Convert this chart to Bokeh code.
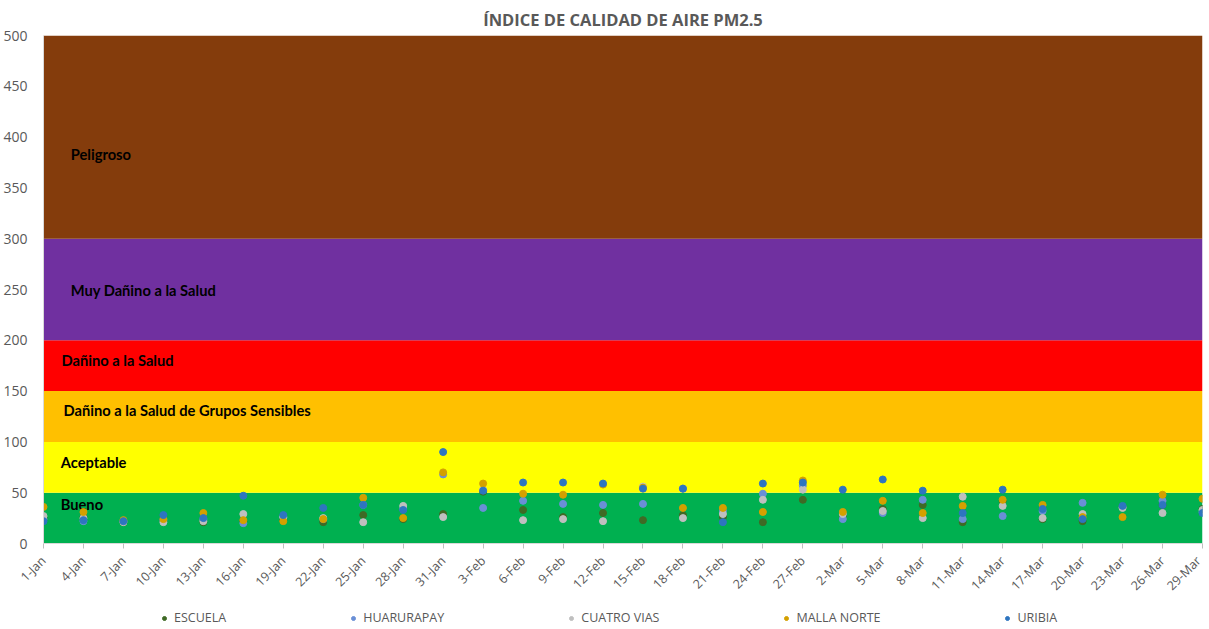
import math
from bokeh.plotting import figure
from bokeh.layouts import column
from bokeh.models import ColumnDataSource, Range1d, FixedTicker, Legend, LegendItem
from bokeh.core.properties import value
from bokeh.embed import file_html
from bokeh.resources import INLINE

dates = ["1-Jan", "4-Jan", "7-Jan", "10-Jan", "13-Jan", "16-Jan", "19-Jan", "22-Jan",
         "25-Jan", "28-Jan", "31-Jan", "3-Feb", "6-Feb", "9-Feb", "12-Feb", "15-Feb",
         "18-Feb", "21-Feb", "24-Feb", "27-Feb", "2-Mar", "5-Mar", "8-Mar", "11-Mar",
         "14-Mar", "17-Mar", "20-Mar", "23-Mar", "26-Mar", "29-Mar"]

escuela = [25, 26, 21, 22, 21, 22, 23, 21, 28, 24, 29, 51, 33, 26, 30, 23, 28, 26, 21, 43,
           28, 34, 38, 21, 42, 24, 22, 36, 38, 34]
huarurapay = [24, 22, 22, 23, 24, 20, 26, 24, 38, 34, 68, 35, 42, 39, 38, 39, 54, 32, 49, 57,
              24, 30, 43, 24, 27, 32, 40, 36, 42, 31]
cuatro_vias = [27, 25, 21, 21, 22, 29, 26, 25, 21, 37, 26, 53, 23, 24, 22, 56, 25, 29, 43, 53,
               29, 32, 25, 46, 37, 25, 29, 35, 30, 33]
malla_norte = [36, 31, 23, 24, 30, 23, 22, 24, 45, 25, 70, 59, 49, 48, 58, 55, 35, 35, 31, 62,
               31, 42, 30, 37, 43, 38, 26, 26, 48, 44]
uribia = [22, 23, 22, 28, 25, 47, 28, 35, 38, 33, 90, 52, 60, 60, 59, 54, 54, 21, 59, 60,
          53, 63, 52, 30, 53, 34, 24, 37, 38, 30]

series_names = ["ESCUELA", "HUARURAPAY", "CUATRO VIAS", "MALLA NORTE", "URIBIA"]
series_values = [escuela, huarurapay, cuatro_vias, malla_norte, uribia]
series_colors = ["#3F6A25", "#6A8FD6", "#BFBFBF", "#D4A000", "#2E75C0"]

band_bottom = [0, 50, 100, 150, 200, 300]
band_top = [50, 100, 150, 200, 300, 500]
band_colors = ["#00B050", "#FFFF00", "#FFC000", "#FF0000", "#7030A0", "#843C0C"]
band_labels = ["Bueno", "Aceptable", "Dañino a la Salud de Grupos Sensibles",
               "Dañino a la Salud", "Muy Dañino a la Salud", "Peligroso"]
label_y = [39, 80, 131, 181, 250, 383]
label_x = [0.43, 0.43, 0.5, 0.45, 0.68, 0.68]

n = len(dates)
xs = list(range(n))

p = figure(width=1204, height=610, output_backend="svg", toolbar_location=None,
           x_range=Range1d(0, n - 1), y_range=Range1d(0, 500),
           min_border_left=40, min_border_right=2, min_border_top=27,
           min_border_bottom=67,
           title="ÍNDICE DE CALIDAD DE AIRE PM2.5")
p.title.align = "center"
p.title.text_font = "Open Sans"
p.title.text_font_size = "16.5px"
p.title.text_font_style = "bold"
p.title.text_color = "#595959"
p.title.offset = 17
p.outline_line_color = None
p.background_fill_color = "white"

band_src = ColumnDataSource(dict(bottom=band_bottom, top=band_top, color=band_colors))
p.quad(left=0, right=n - 1, bottom="bottom", top="top", fill_color="color",
       line_color=None, source=band_src)

lab_src = ColumnDataSource(dict(x=label_x, y=label_y, text=band_labels))
p.text(x="x", y="y", text="text", source=lab_src, text_font=value("Lato"),
       text_font_size="14.7px", text_font_style="bold", text_color="black",
       text_baseline="middle", text_align="left")

for name, vals, col in zip(series_names, series_values, series_colors):
    src = ColumnDataSource(dict(x=xs, y=vals))
    p.scatter(x="x", y="y", source=src, size=7, fill_color=col, line_color=col)

p.xgrid.grid_line_color = None
p.ygrid.grid_line_color = None

p.xaxis.ticker = FixedTicker(ticks=xs)
p.xaxis.major_label_overrides = {i: d for i, d in enumerate(dates)}
p.xaxis.major_label_orientation = math.pi / 4
p.xaxis.major_label_text_font = "Open Sans"
p.xaxis.major_label_text_font_size = "12.5px"
p.xaxis.major_label_text_color = "#595959"
p.xaxis.axis_line_color = "#D9D9D9"
p.xaxis.major_tick_line_color = "#BFBFBF"
p.xaxis.major_tick_in = 0
p.xaxis.major_tick_out = 5
p.xaxis.minor_tick_line_color = None
p.xaxis.major_label_standoff = 10

p.yaxis.ticker = FixedTicker(ticks=list(range(0, 501, 50)))
p.yaxis.major_label_text_font = "Open Sans"
p.yaxis.major_label_text_font_size = "14px"
p.yaxis.major_label_text_color = "#595959"
p.yaxis.axis_line_color = "#D9D9D9"
p.yaxis.major_tick_line_color = None
p.yaxis.minor_tick_line_color = None
p.yaxis.major_label_standoff = 10

# legend strip (series plotted off-range so only legend swatches show)
lg = figure(width=1204, height=18, output_backend="svg", toolbar_location=None,
            x_range=Range1d(0, 1), y_range=Range1d(-1000, -999),
            x_axis_location=None, y_axis_location=None,
            min_border_left=0, min_border_right=0, min_border_top=0, min_border_bottom=0)
lg.outline_line_color = None
lg.xgrid.grid_line_color = None
lg.ygrid.grid_line_color = None
items = []
for name, vals, col in zip(series_names, series_values, series_colors):
    src = ColumnDataSource(dict(x=xs, y=vals))
    r = lg.scatter(x="x", y="y", source=src, size=7, fill_color=col, line_color=col)
    items.append(LegendItem(label=name, renderers=[r]))
legend = Legend(items=items, orientation="horizontal", location=(116, 2),
                border_line_color=None, background_fill_alpha=0,
                label_text_font="Open Sans", label_text_font_size="12.5px",
                label_text_color="#595959", glyph_width=10, glyph_height=10,
                label_standoff=5, spacing=122, padding=0, margin=0,
                label_height=14)
lg.add_layout(legend)

layout = column(p, lg, spacing=0)
open("out.html", "w").write(file_html(layout, INLINE))
